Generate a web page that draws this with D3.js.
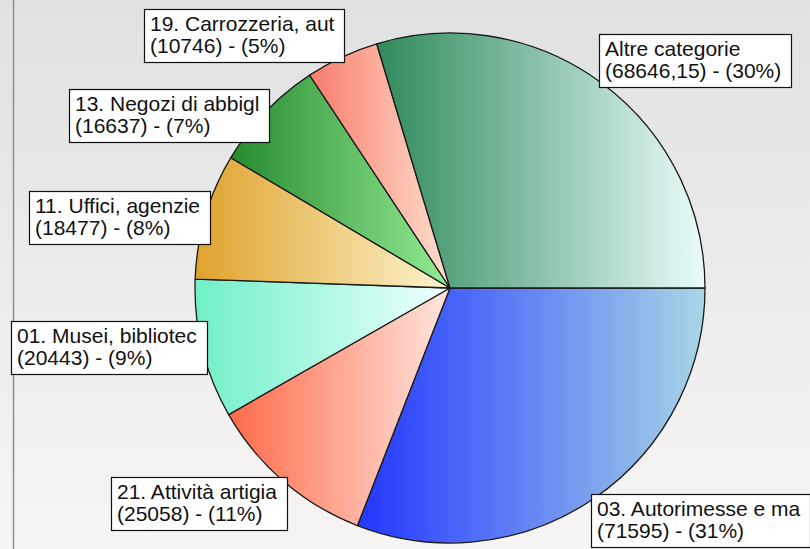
<!DOCTYPE html>
<html>
<head>
<meta charset="utf-8">
<script src="https://cdn.jsdelivr.net/npm/d3@7"></script>
<style>
  html, body { margin: 0; padding: 0; background: #ffffff; }
  svg { display: block; }
</style>
</head>
<body>
<svg id="chart" width="810" height="549"></svg>
<script>
// ---- data ----
const categories = [
  "03. Autorimesse e ma",
  "21. Attività artigia",
  "01. Musei, bibliotec",
  "11. Uffici, agenzie",
  "13. Negozi di abbigl",
  "19. Carrozzeria, aut",
  "Altre categorie"
];
const values = [71595, 25058, 20443, 18477, 16637, 10746, 68646.15];
const valueLabels = ["71595", "25058", "20443", "18477", "16637", "10746", "68646,15"];
const colorsFrom = ["#2236ff", "#ff6a48", "#6ff0c8", "#dfa22c", "#268a2e", "#f97c6c", "#2f8a5a"];
const colorsTo   = ["#a9d6e6", "#ffe6df", "#f2ffff", "#fdf4cf", "#94ec94", "#ffe0cf", "#eafcfc"];

const W = 810, H = 549;
const cx = 450, cy = 288, R = 255, labelR = 250;

const svg = d3.select("#chart");
const defs = svg.append("defs");

// background
const bg = defs.append("linearGradient").attr("id", "bg")
  .attr("x1", 0).attr("y1", 0).attr("x2", 0).attr("y2", 1);
bg.append("stop").attr("offset", "0%").attr("stop-color", "#e1e1e1");
bg.append("stop").attr("offset", "100%").attr("stop-color", "#f7f5f4");
svg.append("rect").attr("width", W).attr("height", H).attr("fill", "url(#bg)");
svg.append("line").attr("x1", 13.5).attr("x2", 13.5).attr("y1", 0).attr("y2", H)
  .attr("stroke", "#8e8e8e").attr("stroke-width", 1.5);

// slice gradients
values.forEach((v, i) => {
  const g = defs.append("linearGradient").attr("id", "g" + i)
    .attr("x1", 0).attr("y1", 0).attr("x2", 1).attr("y2", 0);
  g.append("stop").attr("offset", "0%").attr("stop-color", colorsFrom[i]);
  g.append("stop").attr("offset", "100%").attr("stop-color", colorsTo[i]);
});

const total = d3.sum(values);
const pie = d3.pie().sort(null).value(d => d)
  .startAngle(Math.PI / 2).endAngle(Math.PI / 2 + 2 * Math.PI);
const arcs = pie(values);
const arc = d3.arc().innerRadius(0).outerRadius(R);

const gPie = svg.append("g").attr("transform", `translate(${cx},${cy})`);
gPie.selectAll("path").data(arcs).enter().append("path")
  .attr("d", arc)
  .attr("fill", (d, i) => `url(#g${i})`)
  .attr("stroke", "#1a1a1a")
  .attr("stroke-width", 1.3)
  .attr("stroke-linejoin", "round");

// labels
const gLab = svg.append("g");
arcs.forEach((d, i) => {
  const a = (d.startAngle + d.endAngle) / 2;
  const s = Math.sin(a), c = Math.cos(a);
  const ax = cx + labelR * s, ay = cy - labelR * c;
  const pct = Math.round(values[i] / total * 100);
  const lines = [categories[i], `(${valueLabels[i]}) - (${pct}%)`];

  const g = gLab.append("g");
  const box = g.append("rect").attr("fill", "#ffffff").attr("stroke", "#111")
    .attr("stroke-width", 1.2);
  const texts = lines.map((t, k) => g.append("text")
    .attr("font-family", "Arial, 'Liberation Sans', sans-serif")
    .attr("font-size", 21).attr("fill", "#111").text(t));
  const tw = d3.max(texts, t => t.node().getComputedTextLength());
  const bw = Math.round(tw + 16), bh = 53;
  let bx = s < 0 ? ax - bw : ax;
  let by;
  if (Math.abs(c) > 0.7) by = c > 0 ? ay - bh : ay;
  else by = ay - bh / 2;
  bx = Math.round(bx) + 0.5; by = Math.round(by) + 0.5;
  box.attr("x", bx).attr("y", by).attr("width", bw).attr("height", bh);
  texts.forEach((t, k) => t.attr("x", bx + 5.5).attr("y", by + 21 + k * 22));
});
</script>
</body>
</html>
